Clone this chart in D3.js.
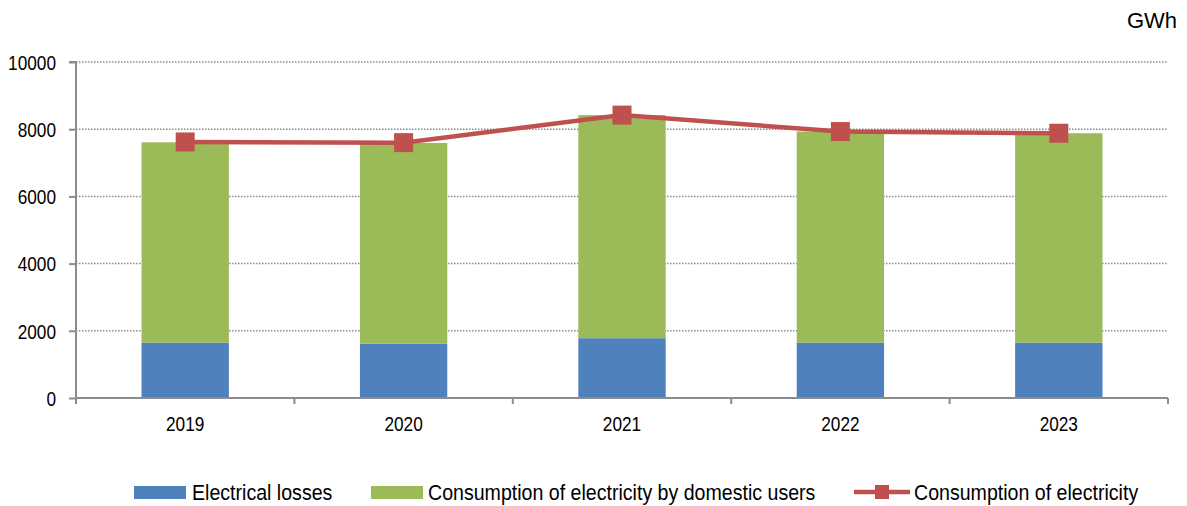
<!DOCTYPE html>
<html>
<head>
<meta charset="utf-8">
<script src="https://cdn.jsdelivr.net/npm/d3@7"></script>
<style>
  html, body { margin: 0; padding: 0; background: #fff; }
  svg text { font-family: "Liberation Sans", Arial, sans-serif; fill: #000; }
</style>
</head>
<body>
<svg id="chart" width="1187" height="506"></svg>
<script>
// Electricity balance, GWh
const years = ["2019", "2020", "2021", "2022", "2023"];
const losses = [1650, 1620, 1780, 1650, 1650];
const domestic = [5960, 5970, 6640, 6280, 6230];
const consumption = [7620, 7600, 8420, 7930, 7880];
const yTicks = [0, 2000, 4000, 6000, 8000, 10000];

const seriesNames = ["Electrical losses", "Consumption of electricity by domestic users", "Consumption of electricity"];
const colors = { losses: "#4F81BD", domestic: "#9BBB59", line: "#C0504D" };

const svg = d3.select("#chart");
const margin = { left: 76, right: 19, top: 62, bottom: 108 };
const W = 1187, H = 506;

const x = d3.scaleBand().domain(years).range([margin.left, W - margin.right]).paddingInner(0.6).paddingOuter(0.3);
const xBand = d3.scaleBand().domain(years).range([margin.left, W - margin.right]);
const y = d3.scaleLinear().domain([0, 10000]).range([H - margin.bottom, margin.top]);

// squeeze text horizontally to a narrower set width
function squeeze(sel, factor) {
  sel.each(function () {
    const len = this.getComputedTextLength();
    d3.select(this).attr("textLength", len * factor).attr("lengthAdjust", "spacingAndGlyphs");
  });
}

// dotted gridlines
svg.append("g").selectAll("line").data(yTicks.filter(d => d > 0)).join("line")
  .attr("x1", margin.left).attr("x2", W - margin.right)
  .attr("y1", d => y(d)).attr("y2", d => y(d))
  .attr("stroke", "#8c8c8c").attr("stroke-width", 1.5).attr("stroke-dasharray", "1.5,1.5");

// stacked bars
const stackData = years.map((yr, i) => ({ year: yr, losses: losses[i], domestic: domestic[i] }));
const stacked = d3.stack().keys(["losses", "domestic"])(stackData);
svg.append("g").selectAll("g").data(stacked).join("g")
  .attr("fill", d => colors[d.key])
  .selectAll("rect").data(d => d).join("rect")
  .attr("x", d => x(d.data.year))
  .attr("width", x.bandwidth())
  .attr("y", d => y(d[1]))
  .attr("height", d => y(d[0]) - y(d[1]));

// y axis
const yAxis = d3.axisLeft(y).tickValues(yTicks).tickSize(7).tickPadding(13).tickFormat(d3.format("d"));
const gy = svg.append("g").attr("transform", `translate(${margin.left},0)`).call(yAxis);
gy.select(".domain").attr("stroke", "#8c8c8c").attr("stroke-width", 2).attr("d", `M-7,${y(10000)}H0V${y(0)}`);
gy.selectAll(".tick line").attr("stroke", "#8c8c8c").attr("stroke-width", 2);
gy.selectAll(".tick text").attr("font-size", 21).attr("dy", "0.35em").attr("font-family", null).call(squeeze, 0.82);

// x axis: ticks on category boundaries
const gx = svg.append("g").attr("transform", `translate(0,${y(0)})`);
gx.append("line").attr("x1", margin.left).attr("x2", W - margin.right)
  .attr("stroke", "#8c8c8c").attr("stroke-width", 2);
const bounds = years.map(yr => xBand(yr)).concat([W - margin.right]);
gx.selectAll("line.tk").data(bounds).join("line").attr("class", "tk")
  .attr("x1", d => d).attr("x2", d => d).attr("y1", 0).attr("y2", 6)
  .attr("stroke", "#8c8c8c").attr("stroke-width", 2);
gx.selectAll("text").data(years).join("text")
  .attr("x", d => xBand(d) + xBand.bandwidth() / 2).attr("y", 33)
  .attr("text-anchor", "middle").attr("font-size", 21).text(d => d)
  .call(squeeze, 0.82);

// total consumption line with square markers
const cx = d => x(d) + x.bandwidth() / 2;
const lineGen = d3.line().x((d, i) => cx(years[i])).y(d => y(d));
svg.append("path").datum(consumption).attr("d", lineGen)
  .attr("fill", "none").attr("stroke", colors.line).attr("stroke-width", 4.5);
const ms = 19;
svg.append("g").selectAll("rect").data(consumption).join("rect")
  .attr("x", (d, i) => cx(years[i]) - ms / 2).attr("y", d => y(d) - ms / 2)
  .attr("width", ms).attr("height", ms).attr("fill", colors.line);

// unit label
svg.append("text").attr("x", 1177).attr("y", 28).attr("text-anchor", "end")
  .attr("font-size", 22).text("GWh");

// legend
const lg = svg.append("g");
const legendY = 492;
lg.append("rect").attr("x", 134).attr("y", legendY - 6).attr("width", 52).attr("height", 13).attr("fill", colors.losses);
lg.append("text").attr("x", 192).attr("y", legendY).attr("dy", "0.35em").attr("font-size", 22).text(seriesNames[0]).call(squeeze, 0.89);
lg.append("rect").attr("x", 371).attr("y", legendY - 6).attr("width", 52).attr("height", 13).attr("fill", colors.domestic);
lg.append("text").attr("x", 428).attr("y", legendY).attr("dy", "0.35em").attr("font-size", 22).text(seriesNames[1]).call(squeeze, 0.89);
lg.append("line").attr("x1", 854).attr("x2", 910).attr("y1", legendY).attr("y2", legendY)
  .attr("stroke", colors.line).attr("stroke-width", 4.5);
lg.append("rect").attr("x", 875).attr("y", legendY - 7).attr("width", 14).attr("height", 14).attr("fill", colors.line);
lg.append("text").attr("x", 914).attr("y", legendY).attr("dy", "0.35em").attr("font-size", 22).text(seriesNames[2]).call(squeeze, 0.89);
</script>
</body>
</html>
